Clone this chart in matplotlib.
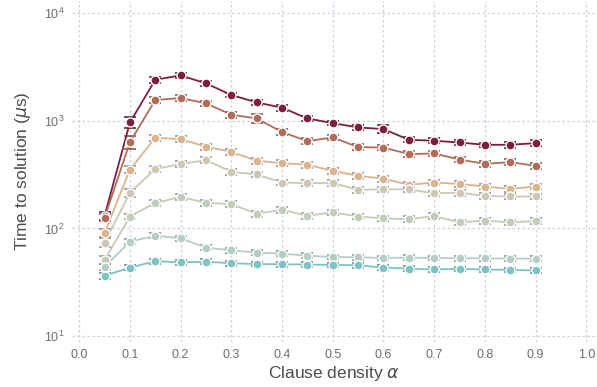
import numpy as np
import matplotlib
matplotlib.use("Agg")
import matplotlib.pyplot as plt
from matplotlib.colors import to_rgb

plt.rcParams['font.family'] = ['Liberation Sans', 'DejaVu Sans']
plt.rcParams['mathtext.fontset'] = 'dejavusans'

# Clause density values
alpha = [0.05, 0.10, 0.15, 0.20, 0.25, 0.30, 0.35, 0.40, 0.45,
         0.50, 0.55, 0.60, 0.65, 0.70, 0.75, 0.80, 0.85, 0.90]

# Mean time to solution (microseconds), one list per series
t_s1 = [131, 965, 2405, 2636, 2223, 1734, 1480, 1321, 1050,
        951, 866, 837, 666, 652, 628, 598, 598, 620]
t_s2 = [126, 634, 1558, 1626, 1449, 1137, 1050, 785, 647,
        700, 569, 564, 490, 497, 436, 398, 413, 381]
t_s3 = [91, 352, 695, 676, 573, 515, 425, 404, 390,
        343, 308, 290, 254, 267, 259, 245, 233, 245]
t_s4 = [74, 215, 356, 396, 431, 336, 317, 267, 263,
        265, 228, 231, 230, 212, 215, 200, 198, 198]
t_s5 = [51, 129, 173, 196, 173, 168, 137, 149, 131,
        141, 129, 124, 122, 130, 114, 118, 114, 117]
t_s6 = [43.9, 75.4, 85.7, 81.1, 66.3, 62.7, 59.6, 58.3, 55.9,
        54.3, 54.0, 53.2, 53.6, 53.2, 52.8, 52.8, 52.5, 52.5]
t_s7 = [36.4, 43.3, 49.6, 48.5, 49.1, 47.5, 46.7, 46.5, 46.2,
        45.8, 45.5, 43.3, 42.4, 41.6, 42.1, 41.6, 41.2, 40.7]

# Relative error (percent) of each mean
e_s1 = [9, 12, 6, 6, 5, 5, 5, 6, 5, 5, 5, 8, 5, 5, 5, 5, 6, 6]
e_s2 = [7, 14, 6, 6, 6, 6, 9, 6, 6, 6, 6, 6, 6, 6, 6, 6, 6, 6]
e_s3 = [9, 7, 6, 6, 6, 6, 6, 6, 6, 6, 6, 6, 6, 6, 6, 6, 6, 6]
e_s4 = [9, 8, 6, 6, 6, 6, 6, 6, 6, 6, 6, 6, 6, 6, 6, 6, 6, 6]
e_s5 = [8, 6, 6, 6, 6, 6, 6, 6, 6, 6, 6, 6, 6, 6, 6, 6, 6, 6]
e_s6 = [6, 5, 5, 5, 5, 5, 5, 5, 5, 5, 5, 5, 5, 5, 5, 5, 5, 5]
e_s7 = [6, 5, 5, 5, 5, 5, 5, 5, 5, 5, 5, 5, 5, 5, 5, 5, 5, 5]

series = [t_s1, t_s2, t_s3, t_s4, t_s5, t_s6, t_s7]
errors = [e_s1, e_s2, e_s3, e_s4, e_s5, e_s6, e_s7]
colors = ['#7c1e3c', '#b06c58', '#dab491', '#cdc8b4',
          '#c2ccb8', '#b4cec4', '#7dc3c3']

x_ticks = [0.0, 0.1, 0.2, 0.3, 0.4, 0.5, 0.6, 0.7, 0.8, 0.9, 1.0]
y_ticks = [10, 100, 1000, 10000]

fig = plt.figure(figsize=(5.97, 3.87), dpi=100)
ax = fig.add_axes([0.120, 0.116, 0.879, 0.882])

for vals, errs, col in zip(series, errors, colors):
    v = np.array(vals, dtype=float)
    e = v * np.array(errs, dtype=float) / 100.0
    dark = tuple(c * 0.72 for c in to_rgb(col))
    ax.errorbar(alpha, v, yerr=e, fmt='none', ecolor=dark,
                elinewidth=0.9, capsize=4.5, capthick=1.1, zorder=2)
    ax.plot(alpha, v, '-', color=col, lw=1.3, zorder=3)
    ax.plot(alpha, v, 'o', color=col, ms=6.5, mec='white', mew=1.0,
            zorder=4)

ax.set_yscale('log')
ax.set_xlim(-0.015, 1.02)
ax.set_ylim(8.8, 13000)
ax.set_xticks(x_ticks)
ax.set_xticklabels([f'{t:.1f}' for t in x_ticks])
ax.set_yticks(y_ticks)
ax.yaxis.set_minor_locator(matplotlib.ticker.NullLocator())

for s in ax.spines.values():
    s.set_visible(False)
ax.tick_params(length=0, labelsize=9, labelcolor='#6e6e6e', pad=5)
ax.grid(True, color='#cfcfe0', linestyle=(0, (2, 2)), lw=0.9)
ax.set_axisbelow(True)

ax.set_xlabel(r'Clause density $\alpha$', fontsize=12.5, color='#4d4d4d',
              labelpad=2)
ax.set_ylabel(r'Time to solution ($\mu$s)', fontsize=12.5, color='#4d4d4d',
              labelpad=8)

fig.savefig('out.png', dpi=100)
